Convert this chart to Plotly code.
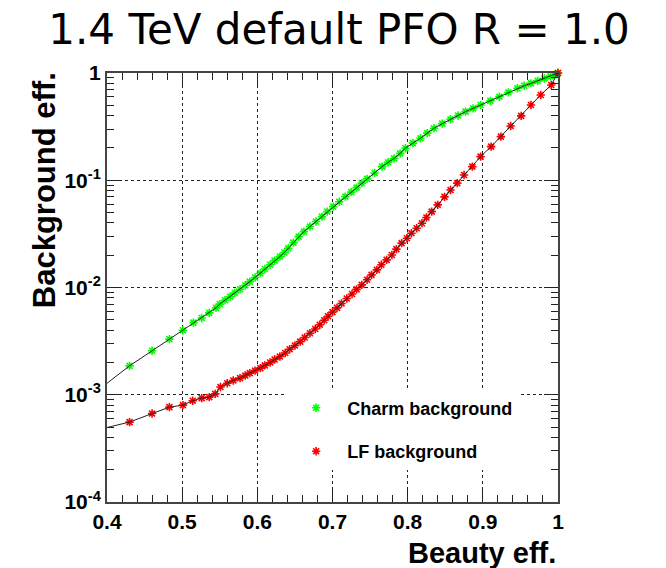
import plotly.graph_objects as go

# Charm background (green) : beauty eff. vs background eff.
charm_x = [0.400, 0.430, 0.460, 0.483, 0.501, 0.515, 0.526, 0.536, 0.545, 0.550,
           0.557, 0.564, 0.570, 0.577, 0.584, 0.590, 0.597, 0.604, 0.610, 0.617,
           0.623, 0.630, 0.636, 0.641, 0.648, 0.655, 0.662, 0.670, 0.678, 0.686,
           0.693, 0.701, 0.709, 0.717, 0.725, 0.732, 0.739, 0.746, 0.756, 0.766,
           0.774, 0.782, 0.790, 0.797, 0.807, 0.817, 0.826, 0.835, 0.846, 0.857,
           0.867, 0.877, 0.887, 0.897, 0.910, 0.922, 0.934, 0.946, 0.955, 0.964,
           0.973, 0.982, 0.990, 0.995, 1.000]
charm_y = [1.28e-3, 1.86e-3, 2.57e-3, 3.3e-3, 4.0e-3, 4.7e-3, 5.2e-3, 5.8e-3, 6.45e-3, 7.0e-3,
           7.6e-3, 8.23e-3, 8.9e-3, 9.64e-3, 1.05e-2, 1.135e-2, 1.24e-2, 1.36e-2, 1.49e-2, 1.63e-2,
           1.78e-2, 1.94e-2, 2.12e-2, 2.32e-2, 2.62e-2, 2.98e-2, 3.32e-2, 3.70e-2, 4.12e-2, 4.58e-2,
           5.1e-2, 5.68e-2, 6.3e-2, 7.03e-2, 7.75e-2, 8.53e-2, 9.4e-2, 0.103, 0.117, 0.134,
           0.147, 0.160, 0.178, 0.199, 0.222, 0.246, 0.275, 0.305, 0.337, 0.370,
           0.402, 0.436, 0.468, 0.503, 0.55, 0.60, 0.66, 0.72, 0.76, 0.80,
           0.845, 0.89, 0.93, 0.96, 1.0]

# Light-flavour background (red)
lf_x = [0.400, 0.430, 0.460, 0.483, 0.501, 0.514, 0.526, 0.536, 0.544, 0.551,
        0.560, 0.568, 0.577, 0.584, 0.590, 0.597, 0.604, 0.610, 0.617, 0.623,
        0.630, 0.637, 0.643, 0.650, 0.657, 0.663, 0.670, 0.677, 0.683, 0.689,
        0.694, 0.700, 0.706, 0.712, 0.719, 0.726, 0.732, 0.739, 0.746, 0.752,
        0.759, 0.765, 0.772, 0.779, 0.785, 0.792, 0.799, 0.805, 0.812, 0.819,
        0.825, 0.832, 0.840, 0.849, 0.857, 0.866, 0.875, 0.886, 0.897, 0.911,
        0.924, 0.937, 0.951, 0.964, 0.977, 0.991, 1.000]
lf_y = [4.95e-4, 5.56e-4, 6.68e-4, 7.66e-4, 8.0e-4, 8.8e-4, 9.3e-4, 9.5e-4, 1.02e-3, 1.18e-3,
        1.28e-3, 1.36e-3, 1.43e-3, 1.51e-3, 1.59e-3, 1.68e-3, 1.77e-3, 1.88e-3, 2.0e-3, 2.13e-3,
        2.27e-3, 2.45e-3, 2.66e-3, 2.88e-3, 3.13e-3, 3.42e-3, 3.75e-3, 4.1e-3, 4.5e-3, 4.95e-3,
        5.4e-3, 5.9e-3, 6.45e-3, 7.1e-3, 7.9e-3, 8.7e-3, 9.6e-3, 1.057e-2, 1.18e-2, 1.31e-2,
        1.46e-2, 1.63e-2, 1.81e-2, 2.01e-2, 2.28e-2, 2.59e-2, 2.88e-2, 3.21e-2, 3.57e-2, 3.97e-2,
        4.5e-2, 5.1e-2, 5.9e-2, 7.0e-2, 8.1e-2, 9.4e-2, 0.112, 0.134, 0.166, 0.206,
        0.255, 0.321, 0.398, 0.503, 0.624, 0.773, 1.0]

x_ticks = [0.4, 0.5, 0.6, 0.7, 0.8, 0.9, 1.0]
x_labels = ["0.4", "0.5", "0.6", "0.7", "0.8", "0.9", "1"]
y_ticks = [1e-4, 1e-3, 1e-2, 1e-1, 1.0]
y_labels = ["10<sup>-4</sup>", "10<sup>-3</sup>", "10<sup>-2</sup>", "10<sup>-1</sup>", "1"]
x_minor = [round(0.4 + 0.02 * i, 2) for i in range(31)]
y_minor = [k * 10.0 ** e for e in range(-4, 0) for k in range(2, 10)]

GREEN = "#00ff00"
RED = "#ff0000"
LINE = "#222222"
FONT = "Liberation Sans"

fig = go.Figure()

fig.add_trace(go.Scatter(
    x=charm_x[1:], y=charm_y[1:], mode="markers", name="Charm background",
    legendgroup="charm", cliponaxis=False,
    marker=dict(symbol="asterisk-open", size=7, color=GREEN, line=dict(color=GREEN, width=1.6)),
))
fig.add_trace(go.Scatter(
    x=lf_x[1:], y=lf_y[1:], mode="markers", name="LF background",
    legendgroup="lf", cliponaxis=False,
    marker=dict(symbol="asterisk-open", size=7, color=RED, line=dict(color=RED, width=1.6)),
))
fig.add_trace(go.Scatter(
    x=charm_x, y=charm_y, mode="lines", showlegend=False, legendgroup="charm",
    hoverinfo="skip", line=dict(color=LINE, width=1),
))
fig.add_trace(go.Scatter(
    x=lf_x, y=lf_y, mode="lines", showlegend=False, legendgroup="lf",
    hoverinfo="skip", line=dict(color=LINE, width=1),
))

axis_common = dict(
    showline=True, linecolor="#444444", linewidth=2, mirror="allticks",
    ticks="inside", ticklen=14, tickwidth=1, tickcolor="#222222",
    showgrid=True, gridcolor="#222222", griddash="dot", gridwidth=1,
    zeroline=False,
    tickfont=dict(family=FONT, size=21, color="black", weight="bold"),
)

fig.update_layout(
    width=666, height=568,
    margin=dict(l=107, r=108, t=73, b=66),
    paper_bgcolor="white", plot_bgcolor="white",
    title=dict(
        text="1.4 TeV default PFO R = 1.0",
        x=0.509, xanchor="center", y=0.948, yanchor="middle",
        font=dict(family="DejaVu Sans", size=42, color="black"),
    ),
    xaxis=dict(
        range=[0.4, 1.0], tickmode="array", tickvals=x_ticks, ticktext=x_labels,
        minor=dict(tickmode="array", tickvals=x_minor, ticklen=7, ticks="inside",
                   tickcolor="#222222", showgrid=False),
        **axis_common,
    ),
    yaxis=dict(
        type="log", range=[-4, 0], tickmode="array", tickvals=y_ticks, ticktext=y_labels,
        minor=dict(tickmode="array", tickvals=y_minor, ticklen=7, ticks="inside",
                   tickcolor="#222222", showgrid=False),
        **axis_common,
    ),
    showlegend=True,
    legend=dict(
        x=0.395, xanchor="left", y=0.262, yanchor="top",
        bgcolor="white", borderwidth=0,
        traceorder="grouped", tracegroupgap=17, itemwidth=52,
        font=dict(family=FONT, size=18, color="black", weight="bold"),
    ),
    annotations=[
        dict(text="Background eff.", xref="paper", yref="paper",
             x=-0.137, y=1.007, xanchor="center", yanchor="top", textangle=-90,
             showarrow=False,
             font=dict(family=FONT, size=31, color="black", weight="bold")),
        dict(text="Beauty eff.", xref="paper", yref="paper",
             x=1.0, y=-0.119, xanchor="right", yanchor="middle",
             showarrow=False,
             font=dict(family=FONT, size=29, color="black", weight="bold")),
    ],
)

fig.write_html("out.html")
